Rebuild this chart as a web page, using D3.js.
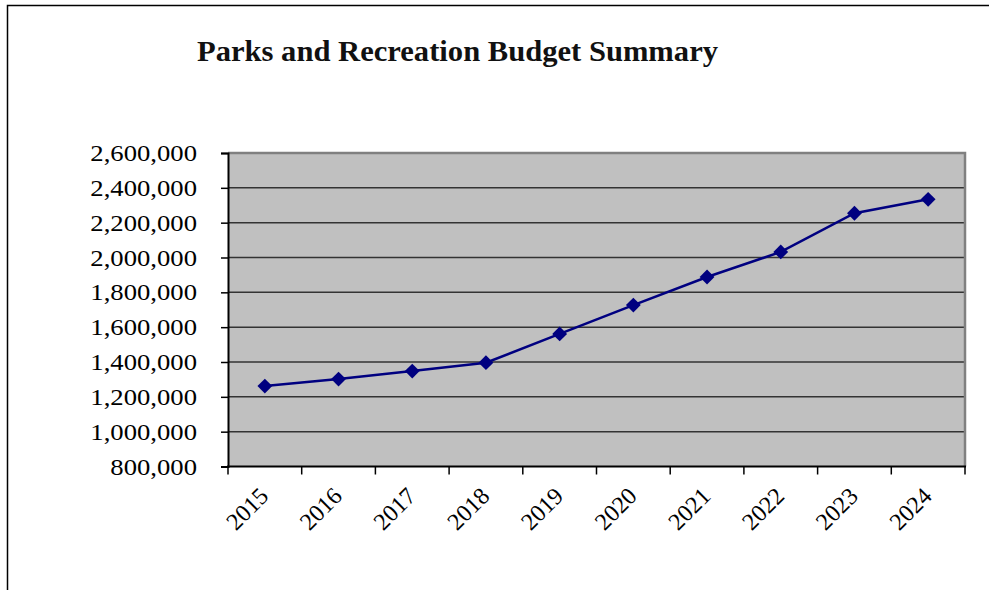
<!DOCTYPE html>
<html>
<head>
<meta charset="utf-8">
<script src="https://cdn.jsdelivr.net/npm/d3@7"></script>
<style>
  html, body { margin: 0; padding: 0; background: #fff; }
  svg { display: block; }
</style>
</head>
<body>
<svg id="chart" width="989" height="590"></svg>
<script>
// Budget totals by year
const years = ["2015", "2016", "2017", "2018", "2019", "2020", "2021", "2022", "2023", "2024"];
const budget = [1262000, 1302000, 1348000, 1396000, 1561000, 1727000, 1888000, 2032000, 2254000, 2334000];
const yTicks = [800000, 1000000, 1200000, 1400000, 1600000, 1800000, 2000000, 2200000, 2400000, 2600000];
const titleText = "Parks and Recreation Budget Summary";

const svg = d3.select("#chart");
const plot = { left: 228, right: 965, top: 153, bottom: 466.5 };
const serif = "Liberation Serif, serif";
const widen = 1.16; // horizontal stretch of value labels

const x = d3.scaleBand().domain(years).range([plot.left, plot.right]).padding(0);
const y = d3.scaleLinear().domain([800000, 2600000]).range([plot.bottom, plot.top]);

// outer frame (left and top edges)
svg.append("path")
  .attr("d", "M7.5,590 V5.5 H989")
  .attr("fill", "none").attr("stroke", "#000").attr("stroke-width", 1.5);

// title
svg.append("text")
  .attr("x", 197).attr("y", 61)
  .attr("font-family", serif)
  .attr("font-weight", "bold")
  .attr("font-size", 29)
  .attr("textLength", 521)
  .attr("lengthAdjust", "spacingAndGlyphs")
  .attr("fill", "#111")
  .text(titleText);

// plot background
svg.append("rect")
  .attr("x", plot.left).attr("y", plot.top)
  .attr("width", plot.right - plot.left).attr("height", plot.bottom - plot.top)
  .attr("fill", "#c0c0c0");

// horizontal gridlines
svg.append("g").selectAll("line")
  .data(yTicks.filter(d => d > 800000 && d < 2600000))
  .join("line")
  .attr("x1", plot.left).attr("x2", plot.right)
  .attr("y1", d => y(d)).attr("y2", d => y(d))
  .attr("stroke", "#333").attr("stroke-width", 1.5);

// top and right plot border
svg.append("path")
  .attr("d", `M${plot.left},${plot.top} H${plot.right} V${plot.bottom}`)
  .attr("fill", "none").attr("stroke", "#808080").attr("stroke-width", 2.5);

// y axis
const yAxis = d3.axisLeft(y).tickValues(yTicks).tickSize(7).tickFormat(d3.format(","));
const gy = svg.append("g").attr("transform", `translate(${plot.left},0)`).call(yAxis);
gy.select(".domain").attr("stroke", "#000").attr("stroke-width", 2);
gy.selectAll(".tick line").attr("stroke", "#000").attr("stroke-width", 1.5);
gy.selectAll(".tick text")
  .attr("font-family", serif)
  .attr("font-size", 23)
  .attr("fill", "#000")
  .attr("dy", "0.33em")
  .attr("x", -31 / widen)
  .attr("transform", `scale(${widen},1)`);

// x axis: ticks at band boundaries, labels rotated under band centres
const gx = svg.append("g").attr("transform", `translate(0,${plot.bottom})`);
gx.append("line")
  .attr("x1", plot.left - 1).attr("x2", plot.right + 1)
  .attr("stroke", "#000").attr("stroke-width", 2);
const boundaries = years.map(d => x(d)).concat([plot.right]);
gx.selectAll("line.tick").data(boundaries).join("line")
  .attr("class", "tick")
  .attr("x1", d => d).attr("x2", d => d)
  .attr("y1", 0).attr("y2", 8)
  .attr("stroke", "#000").attr("stroke-width", 1.5);
gx.selectAll("text").data(years).join("text")
  .attr("transform", d => `translate(${x(d) + x.bandwidth() / 2 + 5},${31}) rotate(-45)`)
  .attr("text-anchor", "end")
  .attr("font-family", serif)
  .attr("font-size", 24)
  .attr("fill", "#000")
  .text(d => d);

// series line
const pts = years.map((d, i) => [x(d) + x.bandwidth() / 2, y(budget[i])]);
svg.append("path")
  .attr("d", d3.line()(pts))
  .attr("fill", "none").attr("stroke", "#000080").attr("stroke-width", 2.5);

// diamond markers
svg.append("g").selectAll("path")
  .data(pts)
  .join("path")
  .attr("transform", d => `translate(${d[0]},${d[1]})`)
  .attr("d", d3.symbol(d3.symbolDiamond2, 140)())
  .attr("fill", "#000080");
</script>
</body>
</html>
